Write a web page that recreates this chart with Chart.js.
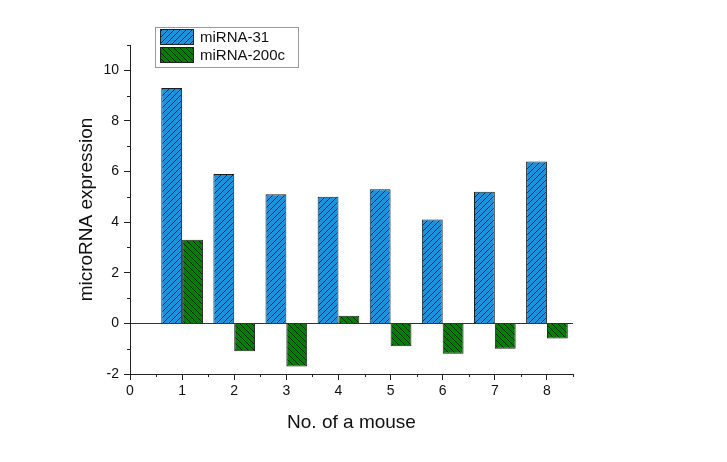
<!DOCTYPE html>
<html>
<head>
<meta charset="utf-8">
<script src="https://cdn.jsdelivr.net/npm/chart.js@4"></script>
<style>
  body { margin: 0; background: #fff; }
  canvas { display: block; }
</style>
</head>
<body>
<canvas id="myChart" width="727" height="462"></canvas>
<script>
var mice = [1, 2, 3, 4, 5, 6, 7, 8];
var mir31 = [9.3, 5.9, 5.1, 5.0, 5.3, 4.1, 5.2, 6.4];
var mir200c = [3.3, -1.1, -1.7, 0.3, -0.9, -1.2, -1.0, -0.6];
var seriesNames = ["miRNA-31", "miRNA-200c"];
var xTickLabels = ["0", "1", "2", "3", "4", "5", "6", "7", "8"];
var yTickLabels = ["-2", "0", "2", "4", "6", "8", "10"];

var FONT = "'Liberation Sans', Arial, sans-serif";

// hatched fill, dir 1 = "/" and -1 = "\"
function hatch(color, dir) {
  var s = 6;
  var c = document.createElement("canvas");
  c.width = s; c.height = s;
  var g = c.getContext("2d");
  g.fillStyle = color;
  g.fillRect(0, 0, s, s);
  g.strokeStyle = "rgba(0,0,0,0.75)";
  g.lineWidth = 0.9;
  g.beginPath();
  if (dir > 0) {
    g.moveTo(0, s); g.lineTo(s, 0);
    g.moveTo(-1, 1); g.lineTo(1, -1);
    g.moveTo(s - 1, s + 1); g.lineTo(s + 1, s - 1);
  } else {
    g.moveTo(0, 0); g.lineTo(s, s);
    g.moveTo(-1, s - 1); g.lineTo(1, s + 1);
    g.moveTo(s - 1, -1); g.lineTo(s + 1, 1);
  }
  g.stroke();
  return g.createPattern(c, "repeat");
}

var blueFill = hatch("#1a93dc", 1);
var greenFill = hatch("#008000", -1);

function points(vals) {
  return mice.map(function (m, i) { return {x: m, y: vals[i]}; });
}

var extras = {
  id: "extras",
  afterDraw: function (chart) {
    var ctx = chart.ctx;
    var xs = chart.scales.x, ys = chart.scales.y;
    var a = chart.chartArea;
    ctx.save();
    ctx.strokeStyle = "#222";
    ctx.lineWidth = 1;
    ctx.beginPath();
    // minor ticks
    for (var v = 0.5; v <= xs.max + 0.001; v += 1) {
      var px = Math.round(xs.getPixelForValue(v)) + 0.5;
      ctx.moveTo(px, a.bottom); ctx.lineTo(px, a.bottom + 3);
    }
    for (var w = -1; w <= ys.max + 0.001; w += 2) {
      var py = Math.round(ys.getPixelForValue(w)) + 0.5;
      ctx.moveTo(a.left, py); ctx.lineTo(a.left - 3, py);
    }
    ctx.stroke();

    // legend
    var lx = 155.5, ly = 27.5, lw = 143, lh = 40;
    ctx.fillStyle = "#fff";
    ctx.fillRect(lx, ly, lw, lh);
    ctx.strokeStyle = "#9a9a9a";
    ctx.strokeRect(lx, ly, lw, lh);
    chart.data.datasets.forEach(function (ds, i) {
      var sy = 29 + i * 18;
      ctx.fillStyle = ds.backgroundColor;
      ctx.fillRect(160, sy, 34, 16);
      ctx.strokeStyle = "#222";
      ctx.strokeRect(160.5, sy + 0.5, 33, 15);
      ctx.fillStyle = "#111";
      ctx.font = "15px " + FONT;
      ctx.textBaseline = "middle";
      ctx.fillText(ds.label, 200, sy + 8.5);
    });
    ctx.restore();
  }
};

new Chart("myChart", {
  type: "bar",
  data: {
    datasets: [{
      label: seriesNames[0],
      data: points(mir31),
      backgroundColor: blueFill,
      borderColor: "#1e1e1e",
      borderWidth: 1
    }, {
      label: seriesNames[1],
      data: points(mir200c),
      backgroundColor: greenFill,
      borderColor: "#1e1e1e",
      borderWidth: 1
    }]
  },
  options: {
    responsive: false,
    animation: false,
    layout: {padding: {left: 75, right: 154, top: 45, bottom: 28}},
    categoryPercentage: 0.8,
    barPercentage: 1,
    plugins: {
      legend: {display: false},
      tooltip: {enabled: false}
    },
    scales: {
      x: {
        type: "linear",
        offset: false,
        min: 0,
        max: 8.5,
        grid: {offset: false, drawOnChartArea: false, tickLength: 6, tickColor: "#222"},
        border: {display: true, color: "#222", width: 1},
        ticks: {
          stepSize: 1,
          includeBounds: false,
          padding: 3,
          color: "#111",
          font: {family: FONT, size: 14},
          maxRotation: 0,
          callback: function (v) { return xTickLabels[v] !== undefined ? xTickLabels[v] : ""; }
        },
        title: {display: true, text: "No. of a mouse", color: "#111", padding: 0,
                font: {family: FONT, size: 19}},
        afterFit: function (s) { s.height = 60; }
      },
      y: {
        min: -2,
        max: 11,
        grid: {
          tickLength: 6,
          tickColor: "#222",
          color: function (c) { return c.tick && c.tick.value === 0 ? "#333" : "rgba(0,0,0,0)"; }
        },
        border: {display: true, color: "#222", width: 1},
        ticks: {
          stepSize: 2,
          includeBounds: false,
          padding: 5,
          color: "#111",
          font: {family: FONT, size: 14},
          callback: function (v) {
            var k = yTickLabels.indexOf(String(v));
            return k >= 0 ? yTickLabels[k] : "";
          }
        },
        title: {display: true, text: "microRNA expression", color: "#111", padding: 0,
                font: {family: FONT, size: 19}},
        afterFit: function (s) { s.width = 55; }
      }
    }
  },
  plugins: [extras]
});
</script>
</body>
</html>
